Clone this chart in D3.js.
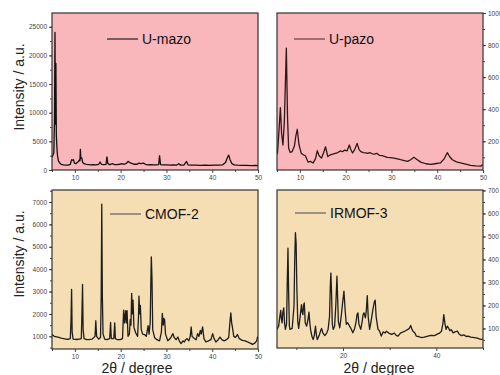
<!DOCTYPE html>
<html>
<head>
<meta charset="utf-8">
<script src="https://cdn.jsdelivr.net/npm/d3@7"></script>
<style>
  body { margin: 0; background: #fff; }
  text { font-family: "Liberation Sans", Arial, sans-serif; }
</style>
</head>
<body>
<div id="chart"></div>
<script>
// [2theta, intensity] pairs
const umazo = [[5.0,2200],[5.2,2600],[5.4,3000],[5.55,9000],[5.65,24000],[5.75,8000],[5.85,18600],[5.95,6000],[6.05,4300],[6.2,2500],[6.4,1600],[6.7,1200],[7.0,1000],[7.5,900],[8.0,850],[8.5,850],[9.0,1000],[9.3,1800],[9.5,1700],[9.7,1800],[9.9,1200],[10.2,1100],[10.5,1300],[10.8,1500],[11.0,1800],[11.1,1600],[11.2,3600],[11.3,2000],[11.5,2100],[11.7,1300],[12.0,1100],[12.5,1000],[13.0,950],[13.5,900],[14.0,950],[14.5,900],[15.2,1000],[15.5,1400],[15.8,1000],[16.3,950],[16.8,1000],[17.0,2300],[17.2,1100],[17.6,950],[18.3,1100],[18.6,950],[19.2,950],[19.8,1000],[20.2,1100],[20.8,1000],[21.3,1200],[21.6,1500],[22.0,1300],[22.4,1150],[23.0,1000],[23.6,1000],[24.0,1200],[24.4,1100],[25.0,1200],[25.4,1000],[26.0,900],[26.5,950],[27.2,900],[27.8,900],[28.3,950],[28.5,2500],[28.7,950],[29.3,900],[30.0,900],[30.8,850],[31.5,900],[32.2,850],[32.7,1100],[33.1,850],[33.8,850],[34.4,1500],[34.7,900],[35.5,850],[36.5,850],[37.5,800],[38.5,850],[39.5,800],[40.5,850],[41.5,850],[42.3,900],[42.9,1300],[43.4,2300],[43.6,2600],[43.9,1800],[44.3,1100],[44.8,900],[45.5,850],[46.5,800],[47.5,800],[48.5,780],[49.5,800],[50,780]];

const upazo = [[5.0,120],[5.1,125],[5.4,250],[5.74,410],[6.0,250],[6.3,177],[6.6,320],[7.04,781],[7.3,350],[7.54,156],[7.9,130],[8.3,135],[8.8,170],[9.1,230],[9.43,275],[9.8,180],[10.3,125],[10.8,115],[11.2,110],[11.8,70],[12.3,75],[12.9,65],[13.4,90],[13.8,141],[14.2,110],[14.7,95],[15.2,130],[15.6,166],[16.1,105],[16.6,115],[17.2,120],[17.7,125],[18.3,130],[18.8,140],[19.3,135],[19.8,145],[20.3,140],[20.8,177],[21.1,150],[21.5,127],[22.0,150],[22.5,187],[22.9,150],[23.3,135],[23.9,130],[24.4,128],[24.8,125],[25.3,130],[25.8,122],[26.2,120],[26.8,125],[27.4,112],[28.0,110],[28.6,105],[29.1,100],[29.8,98],[30.5,95],[31.3,90],[32.0,85],[32.8,80],[33.5,75],[34.2,85],[34.9,100],[35.5,88],[36.4,70],[37.5,60],[38.6,56],[39.5,60],[40.7,65],[41.5,90],[42.2,129],[42.7,105],[43.3,85],[44.2,72],[45.1,65],[46.2,58],[47.3,50],[48.4,47],[49.5,45],[50,55]];

const cmof2 = [[5.0,1080],[5.5,1000],[6.0,980],[6.5,950],[7.0,920],[7.5,900],[8.0,880],[8.5,870],[9.0,900],[9.15,1700],[9.28,3100],[9.4,1200],[9.6,880],[10.2,860],[10.8,870],[11.4,900],[11.55,2100],[11.67,3320],[11.8,1300],[12.0,900],[12.6,850],[13.2,860],[13.8,880],[14.4,1000],[14.57,1700],[14.75,1000],[15.2,880],[15.6,950],[15.75,2800],[15.87,6900],[16.0,2800],[16.15,1100],[16.5,880],[17.0,850],[17.6,900],[17.8,1620],[17.95,900],[18.5,900],[18.7,1600],[18.85,900],[19.3,850],[19.9,850],[20.4,900],[20.65,2170],[20.85,1600],[21.1,2150],[21.25,1600],[21.4,2150],[21.6,1000],[21.9,1100],[22.1,1760],[22.25,1500],[22.4,2920],[22.55,2000],[22.7,2620],[22.9,1400],[23.3,1150],[23.7,1000],[23.9,1900],[24.0,2800],[24.15,2000],[24.3,2380],[24.5,1300],[24.8,1100],[25.2,1080],[25.6,1000],[25.85,1300],[26.0,1480],[26.2,1100],[26.45,1600],[26.6,3500],[26.7,4550],[26.85,3500],[27.0,1300],[27.4,950],[27.9,850],[28.5,800],[28.9,1200],[29.1,2030],[29.3,1500],[29.45,1800],[29.6,1740],[29.8,1100],[30.3,800],[30.8,900],[31.1,1000],[31.4,1120],[31.7,950],[32.1,850],[32.5,970],[32.8,800],[33.2,680],[33.6,800],[33.9,750],[34.2,850],[34.5,900],[34.9,800],[35.2,1000],[35.4,1420],[35.6,1000],[36.1,900],[36.5,850],[36.8,1120],[37.1,1000],[37.4,1270],[37.6,1100],[37.9,1420],[38.2,900],[38.6,750],[39.2,800],[39.7,850],[40.1,1120],[40.4,900],[40.8,750],[41.3,850],[41.7,970],[42.1,850],[42.6,800],[43.1,850],[43.6,950],[43.9,1700],[44.06,2050],[44.25,1600],[44.4,1420],[44.7,1000],[45.1,950],[45.5,1080],[45.9,900],[46.6,820],[47.2,800],[47.7,750],[48.3,700],[48.8,640],[49.3,700],[49.7,800],[49.9,970],[50,900]];

const irmof3 = [[5.85,96],[6.2,110],[6.45,150],[6.65,179],[6.8,140],[6.94,124],[7.1,170],[7.3,189],[7.45,130],[7.65,96],[7.9,120],[8.05,300],[8.2,449],[8.35,250],[8.5,110],[8.64,96],[9.1,100],[9.5,200],[9.65,400],[9.8,517],[9.95,470],[10.1,283],[10.3,130],[10.5,100],[10.8,150],[11.1,204],[11.25,170],[11.4,160],[11.55,200],[11.7,211],[11.9,125],[12.2,110],[12.5,140],[12.7,171],[12.9,120],[13.1,88],[13.35,65],[13.6,52],[13.85,70],[14.1,110],[14.3,70],[14.5,52],[14.9,70],[15.2,90],[15.4,100],[15.7,80],[16.1,69],[16.5,80],[16.8,96],[17.1,150],[17.3,300],[17.4,341],[17.55,250],[17.7,120],[17.9,96],[18.2,110],[18.45,200],[18.7,327],[18.85,230],[19.0,130],[19.3,103],[19.6,150],[19.9,210],[20.2,262],[20.45,180],[20.7,118],[21.0,125],[21.4,110],[21.7,100],[22.1,81],[22.5,100],[22.8,130],[23.0,160],[23.2,168],[23.4,120],[23.8,96],[24.1,130],[24.3,160],[24.5,168],[24.8,146],[25.0,180],[25.2,243],[25.4,150],[25.7,96],[26.0,130],[26.4,182],[26.7,215],[26.9,223],[27.1,150],[27.5,96],[27.8,90],[28.2,67],[28.6,85],[29.0,80],[29.3,88],[29.8,80],[30.4,74],[31.0,80],[31.4,70],[31.8,67],[32.3,80],[32.9,85],[33.4,90],[33.9,96],[34.2,100],[34.5,113],[34.8,95],[35.0,88],[35.4,80],[35.7,67],[36.2,65],[36.8,60],[37.4,62],[38.2,67],[38.8,70],[39.6,69],[40.2,75],[40.7,80],[41.1,88],[41.4,120],[41.6,160],[41.85,120],[42.1,96],[42.35,110],[42.6,103],[42.9,90],[43.2,95],[43.6,81],[44.0,85],[44.5,88],[44.9,75],[45.4,69],[45.9,72],[46.4,65],[46.8,67],[47.4,62],[48.2,60],[48.8,58],[49.2,55],[49.6,52],[50,55]];

// tick values
const xTicksFull = [10, 20, 30, 40, 50];
const xMinorFull = [5, 15, 25, 35, 45];
const xTicksBR = [20, 40];
const xMinorBR = [10, 30, 50];
const yTicksUmazo = [0, 5000, 10000, 15000, 20000, 25000];
const yTicksUpazo = [200, 400, 600, 800, 1000];
const yTicksCmof = [1000, 2000, 3000, 4000, 5000, 6000, 7000];
const yTicksIrmof = [100, 200, 300, 400, 500, 600, 700];

const PINK = '#f9b7bb';
const TAN = '#f6deb4';

const svg = d3.select('#chart').append('svg')
  .attr('width', 500)
  .attr('height', 375);

const panels = [
  {id: 'tl', data: umazo, name: 'U-mazo', bg: PINK, color: '#111', legendColor: '#111',
   x0: 52, x1: 258, y0: 13, y1: 170, xDom: [5, 50], yDom: [0, 27400],
   xTicks: xTicksFull, xMinor: xMinorFull, yTicks: yTicksUmazo, yMinorStep: 2500, side: 'left',
   legend: {x: 107, y: 39}},
  {id: 'tr', data: upazo, name: 'U-pazo', bg: PINK, color: '#2e1818', legendColor: '#5a3535',
   x0: 277, x1: 483, y0: 13, y1: 170, xDom: [5, 50], yDom: [21, 1000],
   xTicks: xTicksFull, xMinor: xMinorFull, yTicks: yTicksUpazo, yMinorStep: 100, side: 'right',
   legend: {x: 294, y: 39}},
  {id: 'bl', data: cmof2, name: 'CMOF-2', bg: TAN, color: '#1e1e1e', legendColor: '#555',
   x0: 52, x1: 258, y0: 190, y1: 349, xDom: [5, 50], yDom: [435, 7535],
   xTicks: xTicksFull, xMinor: xMinorFull, yTicks: yTicksCmof, yMinorStep: 500, side: 'left',
   legend: {x: 110, y: 214}},
  {id: 'br', data: irmof3, name: 'IRMOF-3', bg: TAN, color: '#1e1e1e', legendColor: '#555',
   x0: 277, x1: 483, y0: 190, y1: 348, xDom: [5.85, 50], yDom: [15, 702],
   xTicks: xTicksBR, xMinor: xMinorBR, yTicks: yTicksIrmof, yMinorStep: 50, side: 'right',
   legend: {x: 295, y: 213}}
];

function styleAxis(g) {
  g.select('.domain').remove();
  g.selectAll('.tick line').attr('stroke', '#333').attr('stroke-width', 0.9);
  g.selectAll('.tick text').attr('fill', '#444').style('font-size', '6.5px');
}

panels.forEach(p => {
  const x = d3.scaleLinear().domain(p.xDom).range([p.x0, p.x1]);
  const y = d3.scaleLinear().domain(p.yDom).range([p.y1, p.y0]);

  svg.append('rect')
    .attr('x', p.x0).attr('y', p.y0)
    .attr('width', p.x1 - p.x0).attr('height', p.y1 - p.y0)
    .attr('fill', p.bg);

  svg.append('clipPath').attr('id', 'clip-' + p.id)
    .append('rect')
    .attr('x', p.x0).attr('y', p.y0)
    .attr('width', p.x1 - p.x0).attr('height', p.y1 - p.y0);

  const line = d3.line().x(d => x(d[0])).y(d => y(d[1]));
  svg.append('path')
    .datum(p.data)
    .attr('clip-path', 'url(#clip-' + p.id + ')')
    .attr('fill', 'none')
    .attr('stroke', p.color)
    .attr('stroke-width', 1.3)
    .attr('stroke-linejoin', 'round')
    .attr('d', line);

  // bottom axis
  svg.append('g')
    .attr('transform', 'translate(0,' + p.y1 + ')')
    .call(d3.axisBottom(x).tickValues(p.xTicks).tickSize(3).tickPadding(2).tickFormat(d3.format('d')))
    .call(styleAxis);
  svg.append('g')
    .attr('transform', 'translate(0,' + p.y1 + ')')
    .call(d3.axisBottom(x).tickValues(p.xMinor.filter(v => v >= p.xDom[0])).tickSize(2).tickFormat(''))
    .call(styleAxis);

  // value axis
  const yMinor = d3.range(Math.ceil(p.yDom[0] / p.yMinorStep) * p.yMinorStep, p.yDom[1] + 1, p.yMinorStep);
  const axisFn = p.side === 'left' ? d3.axisLeft : d3.axisRight;
  const ax = p.side === 'left' ? p.x0 : p.x1;
  svg.append('g')
    .attr('transform', 'translate(' + ax + ',0)')
    .call(axisFn(y).tickValues(yMinor).tickSize(2).tickFormat(''))
    .call(styleAxis);
  svg.append('g')
    .attr('transform', 'translate(' + ax + ',0)')
    .call(axisFn(y).tickValues(p.yTicks).tickSize(3).tickPadding(2).tickFormat(d3.format('d')))
    .call(styleAxis);

  // frame
  svg.append('rect')
    .attr('x', p.x0).attr('y', p.y0)
    .attr('width', p.x1 - p.x0).attr('height', p.y1 - p.y0)
    .attr('fill', 'none')
    .attr('stroke', '#333')
    .attr('stroke-width', 1.2);

  // legend
  svg.append('line')
    .attr('x1', p.legend.x).attr('x2', p.legend.x + 31)
    .attr('y1', p.legend.y).attr('y2', p.legend.y)
    .attr('stroke', p.legendColor).attr('stroke-width', 1.1);
  svg.append('text')
    .attr('x', p.legend.x + 35)
    .attr('y', p.legend.y + 5)
    .attr('fill', '#111')
    .style('font-size', '14px')
    .text(p.name);
});

// axis titles
[87, 254].forEach(cy => {
  svg.append('text')
    .attr('transform', 'translate(24,' + cy + ') rotate(-90)')
    .attr('text-anchor', 'middle')
    .attr('fill', '#222')
    .style('font-size', '14px')
    .text('Intensity / a.u.');
});
[137, 379].forEach(cx => {
  svg.append('text')
    .attr('x', cx).attr('y', 373)
    .attr('text-anchor', 'middle')
    .attr('fill', '#222')
    .style('font-size', '14px')
    .text('2θ / degree');
});
</script>
</body>
</html>
